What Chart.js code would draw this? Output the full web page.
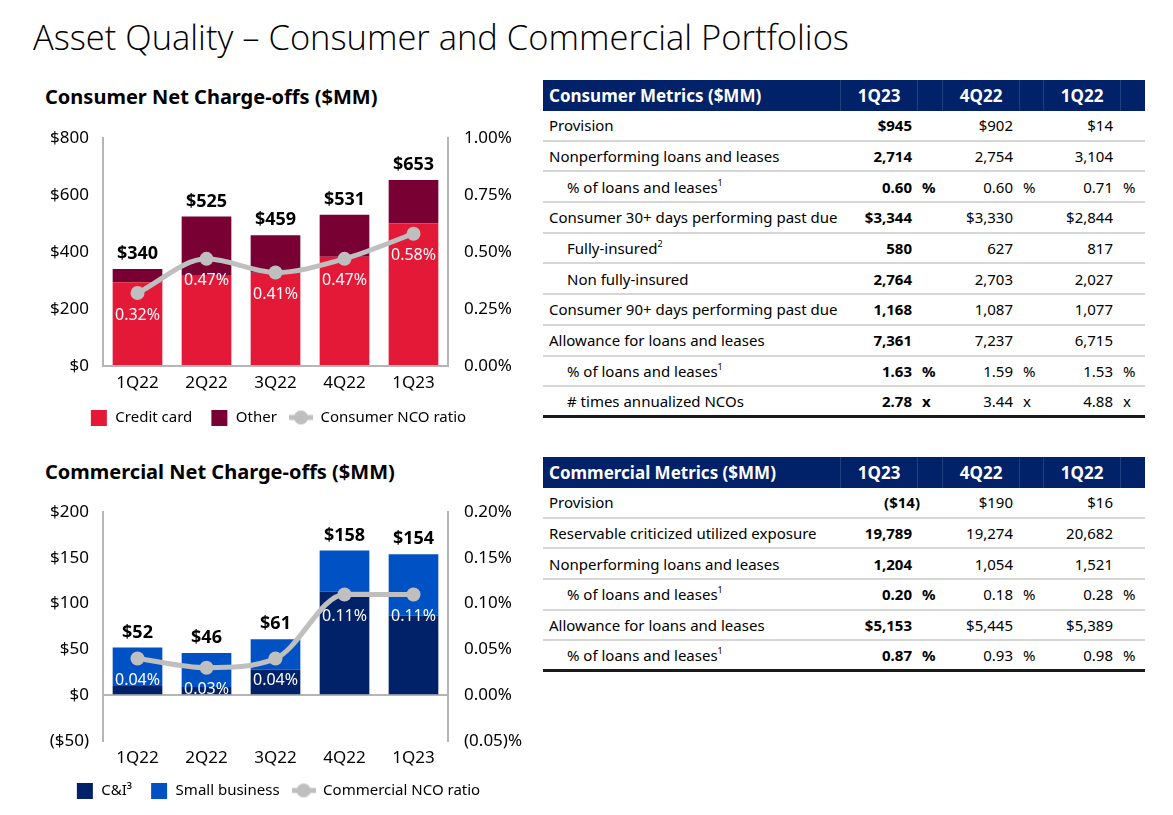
<!DOCTYPE html>
<html>
<head>
<meta charset="utf-8">
<script src="https://cdn.jsdelivr.net/npm/chart.js@4.4.1/dist/chart.umd.min.js"></script>
<style>
  html, body { margin:0; padding:0; background:#fff; }
  body { width:1173px; height:815px; position:relative; overflow:hidden; font-family:"Noto Sans", "Open Sans", sans-serif; color:#000; }
  .title { position:absolute; left:33px; top:13px; font-family:"Open Sans","Noto Sans",sans-serif; font-weight:300; font-size:34.5px; letter-spacing:0; white-space:nowrap; }
  .sub { position:absolute; left:45px; font-weight:700; font-size:20px; white-space:nowrap; }
  .box { position:absolute; }
  .tbl { position:absolute; left:543px; width:602px; font-size:15px; }
  .row { display:flex; height:30.7px; box-sizing:border-box; border-bottom:2px solid #d6d6d6; align-items:center; }
  .row.last { border-bottom:3px solid #1a1a1a; }
  .hdr { display:flex; height:31px; background:#012169; color:#fff; font-weight:700; font-size:17px; align-items:stretch; }
  .hdr div { display:flex; align-items:center; justify-content:center; border-left:1px solid #22407e; }
  .hdr div.lbl { justify-content:flex-start; border-left:none; padding-left:6px; }
  .c0 { width:300px; box-sizing:border-box; padding-left:6px; white-space:nowrap; }
  .c0.ind { padding-left:24px; }
  .cv { width:77px; box-sizing:border-box; text-align:right; padding-right:8px; white-space:nowrap; }
  .cu { width:24px; box-sizing:border-box; padding-left:2px; }
  .cu2 { width:23px; }
  .b { font-weight:700; }
  sup { font-size:9px; line-height:0; position:relative; top:-1px; }
</style>
</head>
<body>
<div class="title">Asset Quality – Consumer and Commercial Portfolios</div>
<div class="sub" style="top:83px">Consumer Net Charge-offs ($MM)</div>
<div class="sub" style="top:458px">Commercial Net Charge-offs ($MM)</div>

<div class="box" style="left:20px; top:120px; width:510px; height:315px;"><canvas id="cons"></canvas></div>
<div class="box" style="left:20px; top:495px; width:510px; height:313px;"><canvas id="comm"></canvas></div>

<div class="tbl" id="consTbl" style="top:80px"></div>
<div class="tbl" id="commTbl" style="top:457px"></div>

<script>
// ---------- Chart data ----------
const quarters = ['1Q22', '2Q22', '3Q22', '4Q22', '1Q23'];

const consumerCreditCard = [294, 319, 327, 383, 500];
const consumerOther      = [46, 206, 132, 148, 153];
const consumerNcoRatio   = [0.32, 0.47, 0.41, 0.47, 0.58];
const consumerLeftTicks  = ['$0', '$200', '$400', '$600', '$800'];
const consumerRightTicks = ['0.00%', '0.25%', '0.50%', '0.75%', '1.00%'];

const commercialCI        = [10, 9, 28, 113, 87];
const commercialSmallBiz  = [42, 37, 33, 45, 67];
const commercialNcoRatio  = [0.04, 0.03, 0.04, 0.11, 0.11];
const commercialLeftTicks  = ['($50)', '$0', '$50', '$100', '$150', '$200'];
const commercialRightTicks = ['(0.05)%', '0.00%', '0.05%', '0.10%', '0.15%', '0.20%'];

// ---------- Table data ----------
const tblCols = ['1Q23', '4Q22', '1Q22'];
const consumerMetricLabels = ['Provision', 'Nonperforming loans and leases', '% of loans and leases<sup>1</sup>',
  'Consumer 30+ days performing past due', 'Fully-insured<sup>2</sup>', 'Non fully-insured',
  'Consumer 90+ days performing past due', 'Allowance for loans and leases', '% of loans and leases<sup>1</sup>',
  '# times annualized NCOs'];
const consumerMetricIndent = [0,0,1,0,1,1,0,0,1,1];
const consumer1Q23 = ['$945', '2,714', '0.60', '$3,344', '580', '2,764', '1,168', '7,361', '1.63', '2.78'];
const consumer4Q22 = ['$902', '2,754', '0.60', '$3,330', '627', '2,703', '1,087', '7,237', '1.59', '3.44'];
const consumer1Q22 = ['$14', '3,104', '0.71', '$2,844', '817', '2,027', '1,077', '6,715', '1.53', '4.88'];
const consumerUnits = ['', '', '%', '', '', '', '', '', '%', 'x'];

const commercialMetricLabels = ['Provision', 'Reservable criticized utilized exposure', 'Nonperforming loans and leases',
  '% of loans and leases<sup>1</sup>', 'Allowance for loans and leases', '% of loans and leases<sup>1</sup>'];
const commercialMetricIndent = [0,0,0,1,0,1];
const commercial1Q23 = ['($14)', '19,789', '1,204', '0.20', '$5,153', '0.87'];
const commercial4Q22 = ['$190', '19,274', '1,054', '0.18', '$5,445', '0.93'];
const commercial1Q22 = ['$16', '20,682', '1,521', '0.28', '$5,389', '0.98'];
const commercialUnits = ['', '', '', '%', '', '%'];

// ---------- Tables ----------
function buildTable(el, title, labels, indent, c1, c2, c3, units) {
  let h = '<div class="hdr"><div class="lbl" style="width:300px;box-sizing:border-box">' + title + '</div>' +
    '<div style="width:77px">' + tblCols[0] + '</div><div style="width:24px"></div>' +
    '<div style="width:77px">' + tblCols[1] + '</div><div style="width:23px"></div>' +
    '<div style="width:77px">' + tblCols[2] + '</div><div style="width:24px"></div></div>';
  labels.forEach((lab, i) => {
    const last = i === labels.length - 1 ? ' last' : '';
    const u = units[i];
    h += '<div class="row' + last + '">' +
      '<div class="c0' + (indent[i] ? ' ind' : '') + '">' + lab + '</div>' +
      '<div class="cv b"' + (c1[i].startsWith('(') ? ' style="padding-right:0"' : '') + '>' + c1[i] + '</div>' +
      '<div class="cu b">' + u + '</div>' +
      '<div class="cv">' + c2[i] + '</div>' +
      '<div class="cu cu2">' + u + '</div>' +
      '<div class="cv">' + c3[i] + '</div>' +
      '<div class="cu">' + u + '</div></div>';
  });
  el.innerHTML = h;
}
buildTable(document.getElementById('consTbl'), 'Consumer Metrics ($MM)', consumerMetricLabels, consumerMetricIndent,
  consumer1Q23, consumer4Q22, consumer1Q22, consumerUnits);
buildTable(document.getElementById('commTbl'), 'Commercial Metrics ($MM)', commercialMetricLabels, commercialMetricIndent,
  commercial1Q23, commercial4Q22, commercial1Q22, commercialUnits);

// ---------- Charts ----------
const FONT = '"Noto Sans", "Open Sans", sans-serif';
const AXIS = '#b5b5b5';
const LINE = '#bfbfbf';

function squareIcon(color) {
  const c = document.createElement('canvas');
  c.width = 24; c.height = 16;
  const x = c.getContext('2d');
  x.fillStyle = color; x.fillRect(7, 0, 16, 16);
  return c;
}
function lineIcon() {
  const c = document.createElement('canvas');
  c.width = 24; c.height = 16;
  const x = c.getContext('2d');
  x.strokeStyle = LINE; x.lineWidth = 5;
  x.beginPath(); x.moveTo(0, 8); x.lineTo(24, 8); x.stroke();
  x.fillStyle = LINE; x.beginPath(); x.arc(12, 8, 7, 0, Math.PI * 2); x.fill();
  return c;
}

const labelPlugin = {
  id: 'valueLabels',
  afterDatasetsDraw(chart) {
    const ctx = chart.ctx;
    const ds = chart.data.datasets;
    const topMeta = chart.getDatasetMeta(1);
    ctx.save();
    ctx.textAlign = 'center';
    ctx.textBaseline = 'middle';
    ctx.font = 'bold 18px ' + FONT;
    ctx.fillStyle = '#000';
    topMeta.data.forEach((el, i) => {
      const total = ds[0].data[i] + ds[1].data[i];
      ctx.fillText('$' + total, el.x, el.y - 15);
    });
    const lineMeta = chart.getDatasetMeta(2);
    ctx.font = '16px ' + FONT;
    ctx.fillStyle = '#fff';
    lineMeta.data.forEach((pt, i) => {
      ctx.fillText(ds[2].data[i].toFixed(2) + '%', pt.x, pt.y + 22);
    });
    ctx.restore();
  }
};

function noPad(s) { s.paddingTop = 0; s.paddingBottom = 0; }

function makeChart(id, barA, barB, ratio, colA, colB, names, yMin, yMax, yStep, leftTicks, r1Min, r1Max, r1Step, rightTicks, topPad, xH, xPad) {
  const icons = [squareIcon(colA), squareIcon(colB), lineIcon()];
  return new Chart(document.getElementById(id), {
    type: 'bar',
    data: {
      labels: quarters,
      datasets: [
        { label: names[0], data: barA, backgroundColor: colA, stack: 's', order: 1, barPercentage: 0.72, categoryPercentage: 1.0, yAxisID: 'y' },
        { label: names[1], data: barB, backgroundColor: colB, stack: 's', order: 1, barPercentage: 0.72, categoryPercentage: 1.0, yAxisID: 'y' },
        { type: 'line', label: names[2], data: ratio, yAxisID: 'y1', order: 0, borderColor: LINE, backgroundColor: LINE,
          borderWidth: 5, pointRadius: 7, pointHoverRadius: 7, pointBackgroundColor: LINE, pointBorderWidth: 0,
          cubicInterpolationMode: 'monotone', fill: false }
      ]
    },
    options: {
      responsive: true, maintainAspectRatio: false, animation: false,
      layout: { padding: { top: topPad, left: 0, right: 0, bottom: 0 } },
      plugins: {
        tooltip: { enabled: false },
        legend: {
          position: 'bottom',
          labels: {
            usePointStyle: true, pointStyleWidth: 24, boxHeight: 16, padding: 12,
            color: '#000', font: { family: FONT, size: 15 },
            sort: (a, b) => a.datasetIndex - b.datasetIndex,
            generateLabels(chart) {
              const items = Chart.defaults.plugins.legend.labels.generateLabels(chart);
              items.forEach(it => { it.pointStyle = icons[it.datasetIndex]; it.lineWidth = 0; });
              return items;
            }
          }
        }
      },
      scales: {
        x: {
          stacked: true,
          grid: { display: false, drawTicks: false },
          border: { display: false },
          ticks: { color: '#000', font: { family: FONT, size: 17 }, padding: xPad },
          afterFit(s) { s.height = xH; s.paddingLeft = 0; s.paddingRight = 0; }
        },
        y: {
          stacked: true, position: 'left', min: yMin, max: yMax,
          ticks: { stepSize: yStep, color: '#000', font: { family: FONT, size: 17 }, padding: 14,
            callback: (v, i) => leftTicks[i] },
          grid: { drawTicks: false, lineWidth: 2, color: c => (c.tick && c.tick.value === 0) ? AXIS : 'rgba(0,0,0,0)' },
          border: { display: true, color: AXIS, width: 2 },
          afterFit(s) { s.width = 83; noPad(s); }
        },
        y1: {
          position: 'right', min: r1Min, max: r1Max,
          ticks: { stepSize: r1Step, color: '#000', font: { family: FONT, size: 17 }, padding: 16,
            callback: (v, i) => rightTicks[i] },
          grid: { drawOnChartArea: false, drawTicks: false },
          border: { display: true, color: AXIS, width: 2 },
          afterFit(s) { s.width = 82; noPad(s); }
        }
      }
    },
    plugins: [labelPlugin]
  });
}

makeChart('cons', consumerCreditCard, consumerOther, consumerNcoRatio, '#e31937', '#780032',
  ['Credit card', 'Other', 'Consumer NCO ratio'], 0, 800, 200, consumerLeftTicks, 0, 1.0, 0.25, consumerRightTicks, 18, 32, 7);
makeChart('comm', commercialCI, commercialSmallBiz, commercialNcoRatio, '#012169', '#0052c4',
  ['C&I³', 'Small business', 'Commercial NCO ratio'], -50, 200, 50, commercialLeftTicks, -0.05, 0.20, 0.05, commercialRightTicks, 17, 30, 7);
</script>
</body>
</html>
